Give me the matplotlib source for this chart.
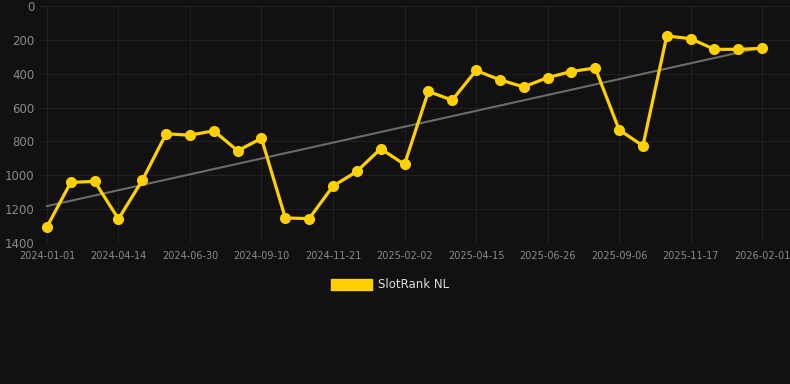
import numpy as np
import matplotlib.pyplot as plt
from matplotlib.patches import Patch

# rank values per observation (lower rank = better, axis inverted)
ranks = [1305, 1042, 1036, 1258, 1030, 755, 763, 737, 855, 782,
         1252, 1256, 1064, 977, 843, 936, 505, 556, 381, 436,
         478, 423, 387, 366, 731, 826, 177, 193, 256, 256, 250]
tick_labels = ["2024-01-01", "2024-04-14", "2024-06-30", "2024-09-10",
               "2024-11-21", "2025-02-02", "2025-04-15", "2025-06-26",
               "2025-09-06", "2025-11-17", "2026-02-01"]
y_ticks = [0, 200, 400, 600, 800, 1000, 1200, 1400]
series_name = "SlotRank NL"

BG = "#111111"
GOLD = "#FFD000"
GRID = "#202020"
TXT = "#8a8a8a"

x = np.arange(len(ranks))
slope, icpt = np.polyfit(x, ranks, 1)
trend = slope * x + icpt

fig = plt.figure(figsize=(7.9, 3.84), dpi=100, facecolor=BG)
ax = fig.add_axes([40 / 790, 1 - 243 / 384, 750 / 790, 237 / 384])
ax.set_facecolor(BG)

ax.plot(x, trend, color="#6b6b6b", lw=1.5, zorder=2)
ax.plot(x, ranks, color=GOLD, lw=2.3, marker="o", ms=8,
        markeredgewidth=0, zorder=3)

ax.set_ylim(1400, 0)
ax.set_xlim(-0.29, 31.17)
ax.set_yticks(y_ticks)
ax.set_xticks(x[::3])
ax.set_xticklabels(tick_labels)
ax.grid(True, color=GRID, lw=0.8)
ax.set_axisbelow(True)
for s in ax.spines.values():
    s.set_visible(False)
ax.tick_params(length=0, colors=TXT)
ax.tick_params(axis="y", labelsize=8.5, pad=4)
ax.tick_params(axis="x", labelsize=7, pad=6)

leg = fig.legend(handles=[Patch(facecolor=GOLD, edgecolor=GOLD)],
                 labels=[series_name], loc="center",
                 bbox_to_anchor=(390 / 790, 1 - 285 / 384),
                 frameon=False, handlelength=3.5, handleheight=1.0,
                 handletextpad=0.5, fontsize=8.5)
for t in leg.get_texts():
    t.set_color("#dddddd")

fig.savefig("out.png", dpi=100, facecolor=BG)
